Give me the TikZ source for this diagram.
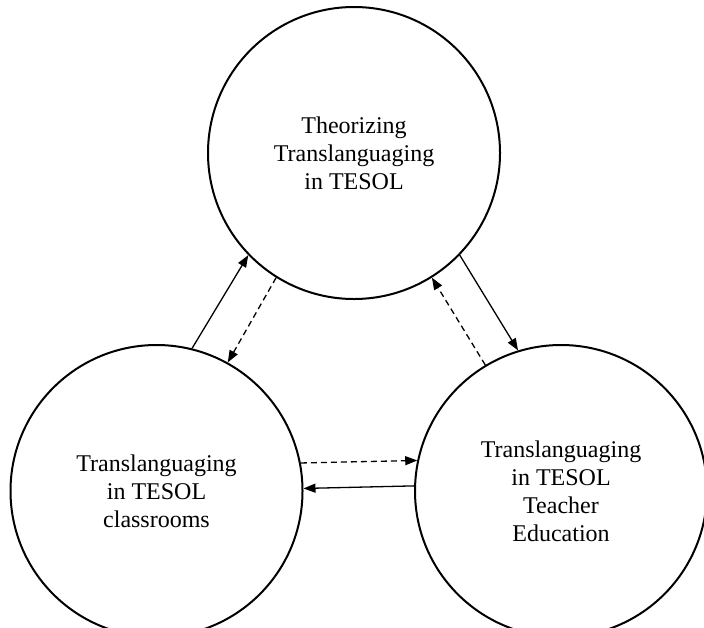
\documentclass[tikz,border=0pt]{standalone}
\usepackage{fontspec}
\setmainfont{Liberation Serif}
\usetikzlibrary{arrows.meta}

\begin{document}
\begin{tikzpicture}[x=0.5pt,y=-0.5pt,
    circ/.style={circle,draw,line width=1pt,minimum size=146pt,inner sep=0pt,
                 align=center,font=\fontsize{12}{14}\selectfont},
    link/.style={line width=0.65pt,-{Triangle[length=6pt,width=4.5pt]}},
    dlink/.style={link,dash pattern=on 3pt off 2pt}]
           \clip (0,0) rectangle (704,627);
           \node[circ] at (354,153) (T) {Theorizing\\Translanguaging\\in TESOL};
           \node[circ] at (156.5,491) (C) {Translanguaging\\in TESOL\\classrooms};
           \node[circ] at (561,491) (E) {Translanguaging\\in TESOL\\Teacher\\Education};

           \draw[link] (C.76) -- (T.224);
           \draw[dlink] (T.238) -- (C.61);
           \draw[link] (T.316) -- (E.107);
           \draw[dlink] (E.121) -- (T.302);
           \draw[dlink] (C.11.5) -- (E.168.5);
           \draw[link] (E.178.4) -- (C.1.6);
        \end{tikzpicture}
\end{document}
